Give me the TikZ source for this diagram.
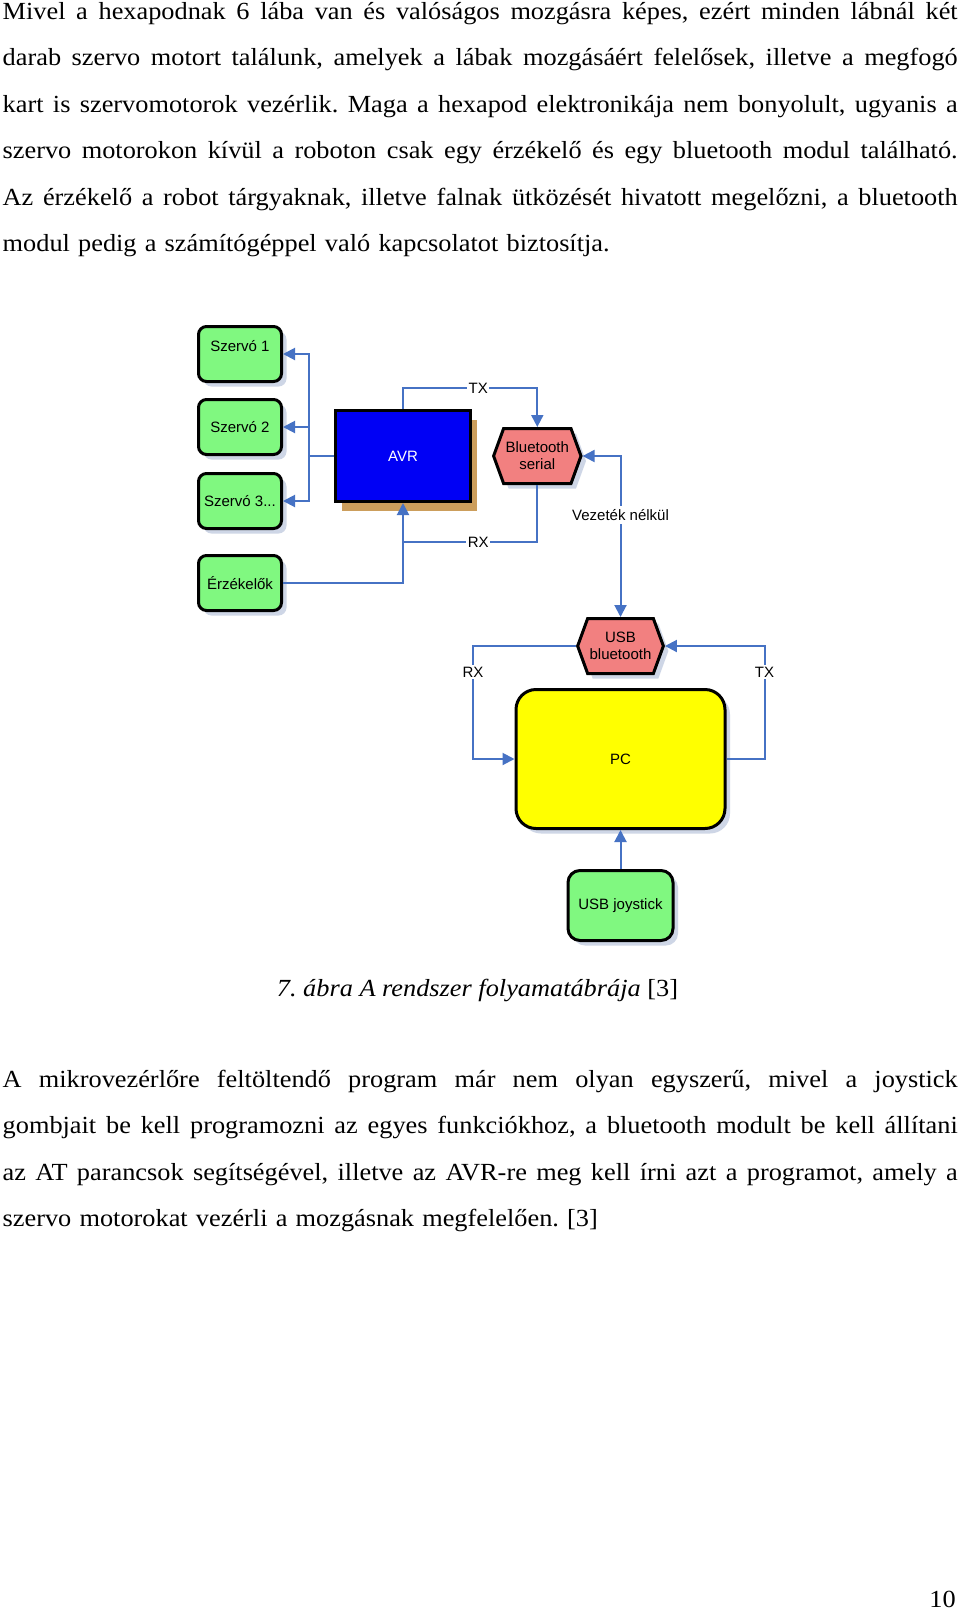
\documentclass[tikz,border=0pt]{standalone}
\usepackage{fontspec}
\setmainfont{Liberation Serif}[FakeStretch=1.07]
\newfontfamily\diagfont{Liberation Sans}
\usetikzlibrary{arrows.meta,positioning,shapes.symbols,shadows}

\definecolor{boxgreen}{RGB}{128,248,128}
\definecolor{boxpink}{RGB}{242,128,128}
\definecolor{boxyellow}{RGB}{255,255,0}
\definecolor{boxblue}{RGB}{0,0,245}
\definecolor{wirecol}{RGB}{70,114,196}
\definecolor{shadecol}{RGB}{206,214,230}
\definecolor{avrshade}{RGB}{204,158,92}

\newcommand{\jline}[1]{\leavevmode\hbox to 955pt{\spaceskip=\fontdimen2\font plus 1fil\relax #1}}

\begin{document}
\begin{tikzpicture}[x=1pt, y=-1pt,
  body/.style={inner sep=0pt, text width=955pt, align=left, anchor=base west,
               font=\fontsize{24.6}{46.5}\selectfont\frenchspacing},
  unit/.style={draw=black, line width=3pt, align=center, inner sep=2pt,
               font=\diagfont\fontsize{15}{17}\selectfont},
  soft/.style={drop shadow={shadow xshift=5pt, shadow yshift=-5pt,
               fill=shadecol, opacity=1}},
  modul/.style={unit, soft, fill=boxgreen, rounded corners=8pt,
                minimum width=83pt, minimum height=55pt},
  radio/.style={unit, soft, fill=boxpink, shape=signal,
                signal to=east and west, signal pointer angle=140,
                minimum width=82pt, minimum height=55pt},
  chip/.style={unit, fill=boxblue, text=white, minimum width=135pt,
               minimum height=91pt,
               drop shadow={shadow xshift=6pt, shadow yshift=-9pt,
               fill=avrshade, opacity=1}},
  host/.style={unit, soft, fill=boxyellow, rounded corners=20pt,
               minimum width=209pt, minimum height=139pt},
  tag/.style={fill=white, inner sep=1.5pt, font=\diagfont\fontsize{15}{17}\selectfont},
  wire/.style={draw=wirecol, line width=2pt, -{Triangle[length=12pt, width=12pt]}},
  plain/.style={draw=wirecol, line width=2pt},
  both/.style={draw=wirecol, line width=2pt,
               {Triangle[length=12pt, width=12pt]}-{Triangle[length=12pt, width=12pt]}}
]
  \fill[white] (0,0) rectangle (960,1610);
  \useasboundingbox (0,0) rectangle (960,1610);

  % Text above the figure
  \node[body] (para1) at (2.5,19) {%
    \jline{Mivel a hexapodnak 6 lába van és valóságos mozgásra képes, ezért minden lábnál két}\\
    \jline{darab szervo motort találunk, amelyek a lábak mozgásáért felelősek, illetve a megfogó}\\
    \jline{kart is szervomotorok vezérlik. Maga a hexapod elektronikája nem bonyolult, ugyanis a}\\
    \jline{szervo motorokon kívül a roboton csak egy érzékelő és egy bluetooth modul található.}\\
    \jline{Az érzékelő a robot tárgyaknak, illetve falnak ütközését hivatott megelőzni, a bluetooth}\\
    modul pedig a számítógéppel való kapcsolatot biztosítja.};

  % Robot side
  \node[modul] (s1) at (240,354) {Szervó 1\\\mbox{}};
  \node[modul, below=15pt of s1] (s2) {Szervó 2};
  \node[modul, below=16pt of s2] (s3) {Szervó 3...};
  \node[modul, below=24pt of s3] (erz) {Érzékelők};
  \node[chip] (avr) at (403,456) {AVR};
  \node[radio, right=20pt of avr] (bt) {Bluetooth\\serial};
  \coordinate[below=39pt of avr.south] (rxj);

  % PC side
  \node[radio] (usb) at (620.5,646) {USB\\bluetooth};
  \node[host, below=13pt of usb] (pc) {PC};
  \node[modul, rounded corners=12pt, minimum width=105pt, minimum height=70pt,
        below=39pt of pc] (joy) {USB joystick};

  % Flow
  \draw[wire] (avr.west) -- ++(-25,0) |- (s1);
  \draw[wire] (avr.west) -- ++(-25,0) |- (s2);
  \draw[wire] (avr.west) -- ++(-25,0) |- (s3);
  \draw[wire] (erz) -| (avr);
  \draw[wire] (avr.north) -- ++(0,-21) -| node[tag, pos=0.28] {TX} (bt);
  \draw[plain] (bt) |- node[tag, pos=0.72] {RX} (rxj);
  \draw[both] (bt) -| node[tag, pos=0.683, inner sep=3pt] {Vezeték nélkül} (usb);
  \draw[wire] (usb.west) -- ++(-103,0) |- node[tag, pos=0.115] {RX} (pc);
  \draw[wire] (pc.east) -- ++(38,0) |- node[tag, pos=0.385] {TX} (usb);
  \draw[wire] (joy) -- (pc);

  % Caption and text below
  \node[anchor=base, inner sep=0pt, font=\fontsize{24.6}{46.5}\selectfont\frenchspacing] (cap) at (477.5,996)
    {\itshape 7. ábra A rendszer folyamatábrája\/\upshape{} [3]};
  \node[body] (para2) at (2.5,1087) {%
    \jline{A mikrovezérlőre feltöltendő program már nem olyan egyszerű, mivel a joystick}\\
    \jline{gombjait be kell programozni az egyes funkciókhoz, a bluetooth modult be kell állítani}\\
    \jline{az AT parancsok segítségével, illetve az AVR-re meg kell írni azt a programot, amely a}\\
    szervo motorokat vezérli a mozgásnak megfelelően. [3]};
  \node[anchor=base east, inner sep=0pt, font=\fontsize{24.6}{46.5}\selectfont] (pnum) at (956,1607) {10};
\end{tikzpicture}
\end{document}
